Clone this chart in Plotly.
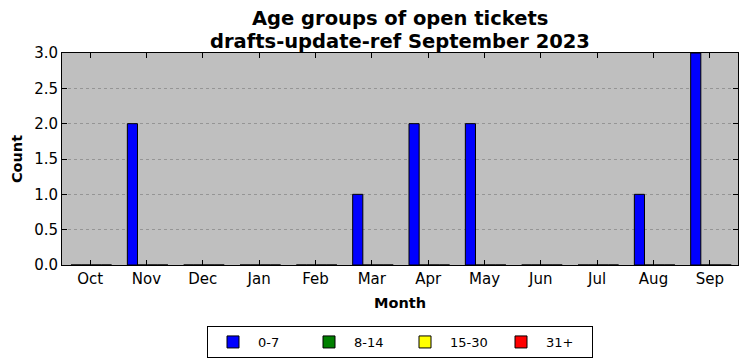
import plotly.graph_objects as go

months = ["Oct", "Nov", "Dec", "Jan", "Feb", "Mar", "Apr", "May", "Jun", "Jul", "Aug", "Sep"]
groups = ["0-7", "8-14", "15-30", "31+"]
colors = ["blue", "green", "yellow", "red"]
counts_0_7 = [0, 2, 0, 0, 0, 1, 2, 2, 0, 0, 1, 3]
counts_8_14 = [0] * 12
counts_15_30 = [0] * 12
counts_31 = [0] * 12
series = [counts_0_7, counts_8_14, counts_15_30, counts_31]

fig = go.Figure()
bw = 0.18
for k, (name, col, vals) in enumerate(zip(groups, colors, series)):
    fig.add_trace(go.Bar(
        x=months, y=vals, name=name,
        marker=dict(color=col, line=dict(color="black", width=1)),
        width=bw, offset=-0.34 + k * bw,
    ))

font = "DejaVu Sans"
W, Ht = 739, 353
L, R, T, B = 54, 9, 45, 96
H = Ht - T - B
fig.update_layout(
    width=W, height=Ht,
    margin=dict(l=L, r=R, t=T, b=B, autoexpand=False),
    paper_bgcolor="white", plot_bgcolor="#bfbfbf",
    barmode="overlay",
    font=dict(family=font, size=15, color="black"),
    showlegend=True,
    legend=dict(orientation="h", x=0.5, xanchor="center", y=-(318 - (Ht - B)) / H, yanchor="top",
                bordercolor="black", borderwidth=1, bgcolor="white",
                font=dict(size=13, family=font), traceorder="normal",
                itemwidth=40, entrywidth=41, entrywidthmode="pixels"),
    annotations=[
        dict(text="<b>Age groups of open tickets</b>", xref="paper", yref="paper",
             x=0.5, y=(Ht - B - 11) / H, xanchor="center", yanchor="middle",
             showarrow=False, font=dict(size=19.5, family=font)),
        dict(text="<b>drafts-update-ref September 2023</b>", xref="paper", yref="paper",
             x=0.5, y=(Ht - B - 33) / H, xanchor="center", yanchor="middle",
             showarrow=False, font=dict(size=19.5, family=font)),
    ],
)
fig.update_xaxes(
    range=[-0.5, 11.5], showline=True, linecolor="black", linewidth=1, mirror="ticks",
    ticks="inside", ticklen=5, tickcolor="black", showgrid=False, automargin=False,
    tickfont=dict(size=15),
    title=dict(text="<b>Month</b>", font=dict(size=14.5), standoff=10),
)
fig.update_yaxes(
    range=[0, 3.0], dtick=0.5, tickformat=".1f", showline=True, linecolor="black",
    linewidth=1, mirror="ticks", ticks="inside", ticklen=5, tickcolor="black",
    showgrid=True, gridcolor="#959595", griddash="dot", gridwidth=1, zeroline=False,
    automargin=False, tickfont=dict(size=15),
    title=dict(text="<b>Count</b>", font=dict(size=14.5), standoff=8),
)
fig.write_html("out.html")
